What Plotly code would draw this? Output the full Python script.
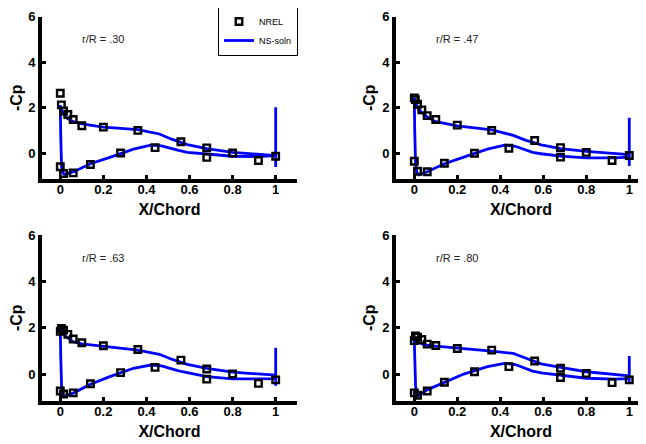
import plotly.graph_objects as go
from plotly.subplots import make_subplots

# ---------------- data ----------------
panel_labels = ["r/R = .30", "r/R = .47", "r/R = .63", "r/R = .80"]

# NREL pressure tap locations (x/c)
nrel_upper_x = [0.0, 0.005, 0.015, 0.035, 0.06, 0.1, 0.2, 0.36, 0.56, 0.68, 0.8, 0.92, 1.0]
nrel_lower_x = [0.0, 0.015, 0.06, 0.14, 0.28, 0.44, 0.68]

nrel_upper_030 = [2.63, 2.12, 1.85, 1.70, 1.48, 1.20, 1.14, 1.00, 0.50, 0.23, 0.00, -0.33, -0.14]
nrel_lower_030 = [-0.60, -0.90, -0.87, -0.50, 0.00, 0.24, -0.19]
nrel_upper_047 = [2.43, 2.35, 2.15, 1.90, 1.65, 1.48, 1.23, 1.00, 0.55, 0.24, 0.03, -0.33, -0.11]
nrel_lower_047 = [-0.36, -0.80, -0.82, -0.45, -0.01, 0.21, -0.18]
nrel_upper_063 = [1.85, 1.97, 1.90, 1.72, 1.52, 1.36, 1.23, 1.07, 0.61, 0.23, 0.01, -0.39, -0.24]
nrel_lower_063 = [-0.72, -0.85, -0.80, -0.41, 0.07, 0.30, -0.21]
nrel_upper_080 = [1.45, 1.65, 1.60, 1.50, 1.30, 1.24, 1.11, 1.04, 0.57, 0.26, 0.04, -0.36, -0.24]
nrel_lower_080 = [-0.80, -0.90, -0.72, -0.34, 0.11, 0.33, -0.14]

# NS solution: upper surface (TE -> LE) and lower surface (LE -> TE)
ns_upper_x = [1.0, 0.93, 0.8, 0.68, 0.59, 0.52, 0.46, 0.36, 0.2, 0.1, 0.06, 0.03, 0.014, 0.005, 0.0]
ns_lower_x = [0.002, 0.006, 0.012, 0.022, 0.06, 0.14, 0.23, 0.34, 0.42, 0.47, 0.55, 0.59, 0.68, 0.8, 0.93, 1.0]

ns_upper_030 = [-0.11, -0.07, 0.03, 0.20, 0.37, 0.60, 0.84, 1.03, 1.14, 1.28, 1.38, 1.55, 1.74, 1.92, 2.10]
ns_lower_030 = [0.80, -0.60, -0.88, -0.94, -0.83, -0.47, -0.19, 0.17, 0.35, 0.32, 0.12, 0.03, -0.04, -0.14, -0.16, -0.11]
ns_upper_047 = [-0.07, -0.02, 0.07, 0.20, 0.36, 0.56, 0.78, 1.02, 1.20, 1.38, 1.59, 1.82, 2.02, 2.25, 2.44]
ns_lower_047 = [1.00, -0.50, -0.85, -0.96, -0.82, -0.47, -0.18, 0.17, 0.35, 0.30, 0.03, -0.03, -0.13, -0.21, -0.21, -0.18]
ns_upper_063 = [-0.04, 0.00, 0.09, 0.26, 0.43, 0.64, 0.86, 1.04, 1.19, 1.31, 1.40, 1.60, 1.75, 1.88, 1.97]
ns_lower_063 = [0.80, -0.50, -0.90, -0.95, -0.81, -0.43, -0.10, 0.26, 0.40, 0.36, 0.15, 0.07, -0.10, -0.20, -0.21, -0.19]
ns_upper_080 = [-0.07, -0.01, 0.11, 0.30, 0.45, 0.69, 0.90, 1.00, 1.11, 1.21, 1.26, 1.32, 1.36, 1.39, 1.42]
ns_lower_080 = [0.60, -0.50, -0.93, -0.90, -0.67, -0.34, 0.01, 0.33, 0.47, 0.42, 0.14, 0.06, -0.05, -0.17, -0.21, -0.19]

# trailing-edge spike of the NS solution at x/c = 1 (top, bottom)
te_spike_x = [1.0, 1.0]
te_spike_030 = [2.02, -0.61]
te_spike_047 = [1.55, -0.57]
te_spike_063 = [1.14, -0.49]
te_spike_080 = [0.79, -0.39]

x_ticks = [0, 0.2, 0.4, 0.6, 0.8, 1]
y_ticks = [0, 2, 4, 6]

panels = [
    (nrel_upper_030, nrel_lower_030, ns_upper_030, ns_lower_030, te_spike_030),
    (nrel_upper_047, nrel_lower_047, ns_upper_047, ns_lower_047, te_spike_047),
    (nrel_upper_063, nrel_lower_063, ns_upper_063, ns_lower_063, te_spike_063),
    (nrel_upper_080, nrel_lower_080, ns_upper_080, ns_lower_080, te_spike_080),
]

# ---------------- figure ----------------
W, H = 646, 444
OFF = 8  # page body margin of the html page
FONT = "Arial, Liberation Sans, sans-serif"
BLUE = "#0000ff"

fig = make_subplots(rows=2, cols=2)

for i, (nu, nl, su, sl, sp) in enumerate(panels):
    r, c = i // 2 + 1, i % 2 + 1
    line_x = ns_upper_x + ns_lower_x + te_spike_x
    line_y = su + sl + sp
    fig.add_trace(go.Scatter(
        x=line_x, y=line_y, mode="lines", name="NS-soln",
        line=dict(color=BLUE, width=2.8), showlegend=(i == 0),
        legendrank=2), row=r, col=c)
    fig.add_trace(go.Scatter(
        x=nrel_upper_x + nrel_lower_x, y=nu + nl, mode="markers", name="NREL",
        marker=dict(symbol="square-open", size=6.5, color="black",
                    line=dict(color="black", width=2.4)),
        showlegend=(i == 0), legendrank=1), row=r, col=c)

# domains (pixel based, compensating for the page margin)
def px_x(a, b):
    return [(a - OFF) / W, (b - OFF) / W]

def px_y(top, bottom):
    return [1 - (bottom - OFF) / H, 1 - (top - OFF) / H]

xdom = {1: (px_x(42, 297), [-0.0849, 1.099]), 2: (px_x(396, 646), [-0.0851, 1.0777])}
ydom = {1: (px_y(16.5, 179), [-1.141, 6.01]), 2: (px_y(234.5, 401), [-1.150, 6.02])}

axis_common = dict(showgrid=False, zeroline=False, showline=True, linecolor="black",
                   linewidth=4, ticks="inside", ticklen=4, tickwidth=3, tickcolor="black",
                   mirror=False, automargin=False, ticklabeloverflow="allow",
                   tickfont=dict(family=FONT, size=13, color="black", weight="bold"))

for i in range(4):
    r, c = i // 2 + 1, i % 2 + 1
    fig.update_xaxes(domain=xdom[c][0], range=xdom[c][1], tickvals=x_ticks,
                     ticktext=[("%g" % v) for v in x_ticks], ticklabelstandoff=-5,
                     title=dict(text="X/Chord", standoff=9,
                                font=dict(family=FONT, size=16, color="black", weight="bold")),
                     row=r, col=c, **axis_common)
    fig.update_yaxes(domain=ydom[r][0], range=ydom[r][1], tickvals=y_ticks,
                     title=dict(text="-Cp", standoff=4,
                                font=dict(family=FONT, size=16, color="black", weight="bold")),
                     row=r, col=c, **axis_common)

# panel labels
for i, lab in enumerate(panel_labels):
    sfx = "" if i == 0 else str(i + 1)
    fig.add_annotation(x=0.2, y=5.0, xref="x" + sfx, yref="y" + sfx, text=lab,
                       showarrow=False, font=dict(family=FONT, size=11, color="#222"))

fig.update_layout(
    width=W, height=H, margin=dict(l=0, r=0, t=0, b=0, autoexpand=False),
    paper_bgcolor="white", plot_bgcolor="white",
    font=dict(family=FONT, color="black"),
    legend=dict(x=(258 - OFF) / W, y=1 - (31 - OFF) / H, xanchor="center", yanchor="middle",
                bordercolor="black", borderwidth=1, bgcolor="white",
                font=dict(family=FONT, size=9, color="black"),
                tracegroupgap=0, itemwidth=30),
)

fig.write_html("out.html")
